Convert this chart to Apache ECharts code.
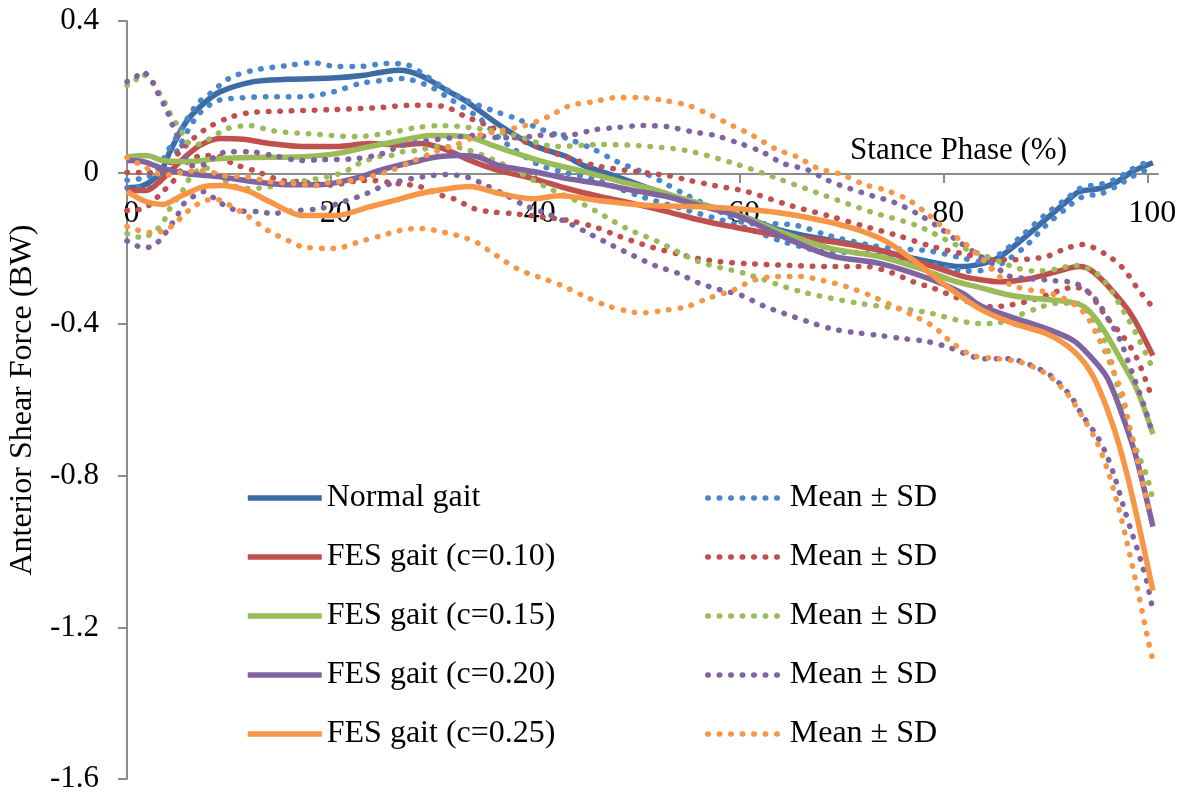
<!DOCTYPE html>
<html>
<head>
<meta charset="utf-8">
<title>Anterior Shear Force</title>
<script src="https://cdn.jsdelivr.net/npm/echarts@6/dist/echarts.min.js"></script>
<style>
  html, body { margin: 0; padding: 0; background: #fff; }
  #chart { width: 1190px; height: 796px; }
</style>
</head>
<body>
<div id="chart"></div>
<script>
// stance phase (%) / shear force (BW) pairs
const normalMean = [[0,-0.04],[1.5,-0.035],[3.2,-0.003],[4.2,0.055],[5.8,0.134],[7.5,0.182],[9.1,0.213],[12.4,0.24],[15.6,0.246],[20.5,0.25],[23,0.256],[25.4,0.267],[26.7,0.27],[28.7,0.257],[31.6,0.213],[33.3,0.187],[36.5,0.125],[39.8,0.072],[43.1,0.042],[44.7,0.019],[48,-0.011],[51.2,-0.042],[54.5,-0.075],[60,-0.113],[64,-0.152],[67.9,-0.174],[71.8,-0.192],[75.7,-0.218],[78.6,-0.235],[81.6,-0.248],[83.8,-0.24],[85.5,-0.222],[87.8,-0.174],[90.1,-0.121],[92,-0.077],[93.3,-0.05],[95.3,-0.042],[97,-0.024],[98.5,0.003],[100.5,0.026]]
const normalUpper = [[0,-0.02],[2,-0.012],[3,0.01],[4,0.058],[5,0.1],[5.9,0.142],[7,0.185],[8.1,0.208],[10.1,0.25],[12.4,0.27],[15.6,0.282],[18.2,0.29],[20.5,0.28],[22.8,0.28],[25.4,0.288],[27.5,0.284],[28.7,0.266],[30.7,0.23],[32.9,0.195],[35.9,0.163],[38.2,0.142],[40.4,0.116],[43.1,0.09],[45.6,0.063],[48,0.029],[50.2,0.005],[52.2,-0.021],[54.5,-0.055],[56,-0.075],[58.6,-0.11],[61,-0.135],[63.5,-0.135],[65.7,-0.14],[68.6,-0.165],[72.5,-0.19],[75,-0.2],[78.4,-0.206],[81.8,-0.225],[83.5,-0.235],[85.5,-0.215],[87.5,-0.17],[90,-0.11],[92,-0.07],[93.5,-0.04],[95.5,-0.03],[97,-0.015],[98.5,0.01],[100.5,0.035]]
const normalLower = [[0,-0.04],[2,-0.04],[3,-0.03],[4,0.01],[5,0.063],[6.9,0.15],[8.6,0.187],[10,0.195],[13.7,0.2],[17,0.2],[20.2,0.213],[22.8,0.235],[25,0.243],[27,0.248],[29.7,0.227],[31.6,0.195],[34.6,0.142],[36.2,0.098],[38,0.06],[40.4,0.02],[43,0],[46,-0.02],[50,-0.06],[55,-0.1],[60,-0.14],[64,-0.18],[66,-0.195],[68,-0.208],[72,-0.212],[76.4,-0.232],[78.4,-0.24],[82.3,-0.26],[84.5,-0.255],[86,-0.235],[88,-0.195],[90,-0.14],[92,-0.095],[93.5,-0.065],[95.5,-0.055],[97,-0.035],[98.5,-0.01],[100.5,0.015]]

const c10Mean = [[0,-0.047],[1.9,-0.047],[3.5,-0.016],[5.2,0.029],[7.1,0.071],[9.1,0.09],[11.4,0.088],[14,0.077],[17.2,0.069],[20.5,0.069],[23.8,0.077],[26.7,0.073],[28.7,0.077],[31,0.063],[33.9,0.029],[36.5,0.005],[39.8,-0.016],[43.1,-0.042],[46.3,-0.063],[49.6,-0.082],[52.9,-0.103],[56.1,-0.125],[59.1,-0.142],[64,-0.166],[68.9,-0.182],[73.8,-0.206],[78.6,-0.245],[81.9,-0.274],[83.5,-0.282],[85.5,-0.288],[88.4,-0.28],[91.1,-0.261],[93.3,-0.248],[94.6,-0.261],[96.6,-0.314],[98.5,-0.38],[100.5,-0.483]]
const c10Upper = [[0,0],[2,0],[3.5,0.01],[5,0.05],[6.5,0.09],[8,0.12],[10,0.145],[12,0.158],[15,0.162],[20,0.166],[25,0.172],[28,0.178],[31,0.175],[33,0.15],[35,0.128],[38,0.092],[42,0.05],[46,0.018],[50,0.002],[53,-0.008],[55,-0.02],[57.5,-0.034],[60.7,-0.05],[65,-0.087],[69,-0.116],[72,-0.14],[75.5,-0.166],[78.6,-0.193],[82,-0.215],[85,-0.23],[87,-0.23],[90,-0.222],[92,-0.2],[93.6,-0.19],[95.8,-0.214],[97.6,-0.253],[99,-0.306],[100.5,-0.356]]
const c10Lower = [[0,-0.1],[1.8,-0.093],[3.5,-0.05],[4.5,-0.024],[6,0.03],[7.5,0.045],[9,0.042],[10.5,0.022],[12.5,0.005],[15,-0.02],[17,-0.024],[20,-0.033],[22.5,-0.022],[24,-0.021],[26.5,-0.029],[28.7,-0.037],[30.8,-0.06],[32,-0.069],[34,-0.095],[35.5,-0.103],[37.7,-0.108],[40,-0.115],[43.4,-0.127],[46,-0.145],[48,-0.166],[51.2,-0.195],[54,-0.215],[56,-0.227],[58,-0.235],[60.7,-0.24],[65,-0.245],[69,-0.248],[72.5,-0.248],[75,-0.265],[77,-0.288],[79,-0.305],[81.3,-0.33],[83,-0.345],[84.8,-0.354],[88.2,-0.34],[91.6,-0.309],[92.7,-0.303],[94,-0.311],[96,-0.383],[97.6,-0.433],[98.9,-0.488],[100.2,-0.578]]

const c15Mean = [[0,0.042],[1.9,0.045],[3.5,0.032],[5.9,0.029],[9.1,0.037],[12.4,0.04],[17.2,0.042],[20.5,0.05],[23.8,0.069],[26.7,0.084],[28.7,0.095],[30,0.098],[33.3,0.095],[35.9,0.071],[38.2,0.05],[41.4,0.024],[44.7,0.003],[48,-0.021],[51.2,-0.042],[54.5,-0.069],[60,-0.113],[64,-0.156],[68.9,-0.2],[73.8,-0.222],[77.7,-0.253],[80.9,-0.285],[83.5,-0.303],[86.8,-0.325],[90.1,-0.335],[92.7,-0.343],[94,-0.359],[95.6,-0.412],[97.3,-0.491],[98.9,-0.57],[100.5,-0.69]]
const c15Upper = [[0,0.23],[0.6,0.235],[1.4,0.261],[2.4,0.24],[2.9,0.222],[3.5,0.195],[4,0.169],[4.5,0.142],[5.2,0.116],[5.7,0.088],[6.5,0.072],[7.5,0.08],[8.6,0.098],[9.8,0.116],[12,0.124],[14.3,0.11],[17.6,0.103],[22.5,0.095],[26.7,0.11],[28.4,0.119],[30.8,0.124],[34.4,0.116],[38,0.098],[42,0.069],[46.6,0.074],[50.2,0.071],[54.8,0.058],[59.5,0.024],[64,-0.018],[68.4,-0.061],[72.8,-0.103],[77.4,-0.14],[81.4,-0.193],[83.5,-0.214],[86,-0.24],[87,-0.251],[89,-0.26],[91,-0.255],[92.8,-0.245],[94,-0.251],[95,-0.266],[95.8,-0.288],[96.5,-0.314],[97.7,-0.369],[98.9,-0.427],[99.9,-0.483],[100.4,-0.512]]
const c15Lower = [[0,-0.161],[1.6,-0.172],[2.6,-0.156],[3.5,-0.135],[4,-0.103],[5.4,-0.05],[5.9,-0.024],[6.9,0.005],[7.8,0.012],[9,-0.01],[10.4,-0.034],[12,-0.042],[13.4,-0.04],[14.7,-0.034],[16.3,-0.024],[17.6,-0.021],[19.2,-0.013],[20.2,-0.008],[21.5,0.005],[22.5,0.021],[23.5,0.032],[24.6,0.042],[25.8,0.045],[27,0.055],[28.4,0.058],[30.5,0.069],[33,0.063],[36.7,0.024],[41,-0.037],[44.6,-0.082],[49,-0.148],[52,-0.182],[56,-0.235],[60.5,-0.266],[66,-0.314],[72,-0.346],[78,-0.367],[83.5,-0.398],[85,-0.398],[87,-0.38],[89,-0.36],[91,-0.345],[93,-0.345],[94.5,-0.38],[96,-0.46],[97,-0.56],[98,-0.66],[99,-0.74],[99.9,-0.8],[100.5,-0.865]]

const c20Mean = [[0,0.032],[1.6,0.029],[3.5,0.011],[5.9,-0.003],[9.1,-0.011],[12.4,-0.024],[15.6,-0.032],[18.9,-0.032],[22.2,-0.016],[25.4,0.011],[28.7,0.032],[30,0.04],[32.3,0.045],[34.3,0.042],[36.5,0.018],[39.8,0.003],[43.1,-0.016],[46.3,-0.029],[49.6,-0.047],[52.9,-0.063],[56.1,-0.087],[60,-0.116],[64,-0.166],[68.9,-0.219],[73.8,-0.24],[78.6,-0.28],[81.9,-0.319],[83.5,-0.35],[86.5,-0.38],[90.1,-0.412],[92.7,-0.443],[94.3,-0.483],[96,-0.54],[97.5,-0.64],[98.9,-0.755],[100.5,-0.934]]
const c20Upper = [[0,0.24],[0.6,0.245],[1.5,0.266],[2.4,0.245],[2.9,0.216],[3.9,0.164],[4.4,0.129],[4.9,0.098],[5.4,0.071],[6.4,0.018],[7.6,0.021],[8.6,0.042],[9.8,0.055],[12,0.055],[14.3,0.045],[17,0.032],[19,0.034],[22.5,0.037],[25,0.05],[26.7,0.069],[29,0.082],[31.8,0.092],[34,0.098],[36.5,0.092],[38.8,0.092],[40,0.098],[43.6,0.1],[45.8,0.113],[48,0.119],[50.5,0.124],[53,0.121],[55.3,0.108],[57.6,0.098],[59.8,0.079],[62.2,0.055],[64.3,0.024],[66.6,0.008],[68.7,-0.021],[70.8,-0.042],[73,-0.061],[75.2,-0.079],[77.4,-0.108],[79.3,-0.14],[81.3,-0.179],[83,-0.21],[85.2,-0.248],[86.2,-0.272],[90.7,-0.285],[93,-0.293],[94.8,-0.332],[96.1,-0.385],[97.3,-0.443],[98.5,-0.53],[99.7,-0.62],[100.4,-0.684]]
const c20Lower = [[0,-0.18],[1.6,-0.198],[2.6,-0.193],[3.5,-0.169],[4.2,-0.142],[4.9,-0.116],[5.4,-0.087],[6.5,-0.063],[7.6,-0.05],[8.6,-0.069],[9.6,-0.087],[10.8,-0.1],[13,-0.103],[14.2,-0.108],[16.6,-0.1],[18.9,-0.095],[21.2,-0.077],[23.5,-0.055],[24.5,-0.042],[26.5,-0.024],[29,-0.011],[31.3,-0.005],[32.6,-0.008],[33.8,-0.016],[34.8,-0.029],[36.8,-0.055],[39,-0.087],[41.1,-0.108],[43.4,-0.135],[45.5,-0.164],[47.6,-0.193],[49.6,-0.219],[51.7,-0.245],[54,-0.266],[55.9,-0.29],[58.1,-0.309],[60.2,-0.324],[62.3,-0.351],[64.4,-0.372],[66.7,-0.393],[69,-0.412],[71.3,-0.422],[73.8,-0.43],[76,-0.438],[78.4,-0.446],[80.6,-0.462],[82.9,-0.486],[84,-0.491],[86.3,-0.491],[88.6,-0.509],[90.6,-0.538],[92.4,-0.588],[93.6,-0.641],[95,-0.694],[96,-0.747],[96.8,-0.807],[97.6,-0.879],[98.4,-0.947],[98.9,-0.987],[99.4,-1.032],[99.9,-1.079],[100.4,-1.142]]

const c25Mean = [[0,-0.05],[1.9,-0.077],[3.5,-0.084],[5.2,-0.063],[7.5,-0.037],[9.1,-0.034],[11.7,-0.047],[14,-0.077],[17.2,-0.113],[20.5,-0.113],[23.8,-0.09],[26.7,-0.07],[28.7,-0.055],[31.6,-0.042],[33.6,-0.037],[36.5,-0.055],[39.8,-0.069],[42.4,-0.061],[46.3,-0.074],[51.2,-0.087],[56.1,-0.09],[62,-0.1],[65.6,-0.113],[70.5,-0.142],[74.4,-0.182],[77.7,-0.245],[80.3,-0.3],[83.5,-0.359],[86.8,-0.398],[90.1,-0.425],[92.7,-0.47],[94.6,-0.535],[96.5,-0.66],[97.9,-0.789],[99.2,-0.94],[100.5,-1.103]]
const c25Upper = [[0,0.04],[1.5,0.018],[2.6,0.003],[3.5,-0.008],[4.7,-0.003],[5.9,0.003],[7.1,0.005],[8.1,0.003],[9.4,-0.008],[11.8,-0.011],[14,-0.024],[16.3,-0.029],[18.6,-0.034],[19.7,-0.026],[22,-0.021],[25.6,0.003],[27.9,0.029],[30.2,0.055],[32.3,0.074],[34.4,0.098],[36.7,0.111],[39,0.124],[41.3,0.148],[43.4,0.177],[45.7,0.187],[48,0.198],[50.2,0.198],[52.7,0.19],[55,0.177],[57.1,0.153],[59.3,0.124],[61.3,0.098],[63.5,0.063],[65.6,0.042],[67.7,0.011],[70,-0.005],[72.3,-0.032],[74.4,-0.047],[76.5,-0.071],[78.5,-0.111],[80.3,-0.153],[82.1,-0.187],[84,-0.234],[85.7,-0.28],[86.7,-0.298],[88.7,-0.311],[89.9,-0.314],[91.1,-0.324],[92.2,-0.338],[93.2,-0.356],[94,-0.377],[95.1,-0.433],[95.6,-0.46],[96.6,-0.522],[97.5,-0.583],[98,-0.644],[99,-0.76],[100.1,-0.887]]
const c25Lower = [[0,-0.142],[1.6,-0.156],[2.7,-0.158],[3.9,-0.15],[4.9,-0.129],[5.7,-0.108],[6.7,-0.087],[7.6,-0.074],[8.8,-0.071],[9.8,-0.082],[11.9,-0.116],[13.8,-0.153],[16,-0.182],[17.1,-0.195],[19.4,-0.2],[20.6,-0.2],[21.6,-0.193],[22.8,-0.182],[25,-0.166],[26.2,-0.156],[27.4,-0.15],[28.5,-0.147],[29.7,-0.15],[30.8,-0.156],[32.1,-0.164],[33.1,-0.172],[34.3,-0.185],[35.3,-0.203],[36.2,-0.219],[37.2,-0.237],[38.2,-0.253],[39.3,-0.266],[40.5,-0.277],[42.6,-0.298],[44.7,-0.325],[47,-0.351],[49.3,-0.367],[50.4,-0.37],[52.5,-0.364],[54.8,-0.354],[56.9,-0.332],[59.3,-0.311],[61.3,-0.285],[63.7,-0.274],[65.9,-0.274],[68.2,-0.285],[70.5,-0.301],[72.8,-0.324],[75,-0.351],[77,-0.377],[79,-0.406],[80.9,-0.451],[82.9,-0.483],[85,-0.49],[87.5,-0.5],[90,-0.53],[92,-0.58],[93.5,-0.64],[95,-0.71],[96,-0.78],[97,-0.87],[98,-0.98],[99,-1.1],[100,-1.23],[100.5,-1.288]]

const meanNames = ['Normal gait', 'FES gait (c=0.10)', 'FES gait (c=0.15)', 'FES gait (c=0.20)', 'FES gait (c=0.25)']
const sdNames = ['sd-normal', 'sd-c10', 'sd-c15', 'sd-c20', 'sd-c25']
const xTicks = [0, 20, 40, 60, 80, 100]

const chart = echarts.init(document.getElementById('chart'))
const FONT = "'Liberation Serif', 'Times New Roman', serif"
const AXIS_GREY = '#8c8c8c'
// y = 0 sits 605px above the bottom of the plot (2.0 BW over 758px)
const X_AXIS_OFFSET = -605

const groups = [
  { mean: normalMean, upper: normalUpper, lower: normalLower, solid: '#3d6ba6', dots: '#4a86cc' },
  { mean: c10Mean, upper: c10Upper, lower: c10Lower, solid: '#c0504d', dots: '#c0504d' },
  { mean: c15Mean, upper: c15Upper, lower: c15Lower, solid: '#9bbb59', dots: '#9bbb59' },
  { mean: c20Mean, upper: c20Upper, lower: c20Lower, solid: '#8064a2', dots: '#8064a2' },
  { mean: c25Mean, upper: c25Upper, lower: c25Lower, solid: '#f79646', dots: '#f79646' }
]

function solidLine (name, color, data) {
  return {
    name, type: 'line', data, smooth: 0.3, symbol: 'none',
    itemStyle: { color },
    lineStyle: { color, width: 5.5 }
  }
}

function dottedLine (name, color, data) {
  return {
    name, type: 'line', data, smooth: 0.3, symbol: 'none',
    itemStyle: { color },
    lineStyle: { color, width: 5.5, type: [0.5, 11], cap: 'round' }
  }
}

const series = []
groups.forEach((g, i) => {
  series.push(solidLine(meanNames[i], g.solid, g.mean))
  series.push(dottedLine(sdNames[i], g.dots, g.upper))
  series.push(dottedLine(sdNames[i], g.dots, g.lower))
})

const legendBase = {
  orient: 'vertical',
  top: 482,
  padding: 0,
  itemWidth: 74,
  itemHeight: 20,
  itemGap: 27,
  selectedMode: false,
  itemStyle: { opacity: 0 },
  lineStyle: { width: 5.5 },
  textStyle: { fontFamily: FONT, fontSize: 32, color: '#000', lineHeight: 32 }
}

chart.setOption({
  animation: false,
  backgroundColor: '#fff',
  grid: { left: 127, right: 32, top: 21, bottom: 17, containLabel: false, outerBoundsMode: 'none' },
  legend: [
    Object.assign({}, legendBase, { left: 245, data: meanNames }),
    Object.assign({}, legendBase, { left: 705, itemWidth: 77, data: sdNames, formatter: () => 'Mean ± SD' })
  ],
  xAxis: {
    type: 'value',
    min: 0,
    max: 101,
    interval: 20,
    offset: X_AXIS_OFFSET,
    name: 'Stance Phase (%)',
    nameLocation: 'end',
    nameGap: -91,
    nameTextStyle: { fontFamily: FONT, fontSize: 31, color: '#000', align: 'right', verticalAlign: 'bottom', padding: [0, 0, 8, 0] },
    axisLine: { onZero: false, lineStyle: { color: AXIS_GREY, width: 2 } },
    axisTick: { length: 9, lineStyle: { color: AXIS_GREY, width: 2 }, customValues: xTicks },
    axisLabel: { fontFamily: FONT, fontSize: 32, color: '#000', margin: 24, padding: [0, 0, 0, 9], customValues: xTicks },
    splitLine: { show: false }
  },
  yAxis: {
    type: 'value',
    min: -1.6,
    max: 0.4,
    interval: 0.4,
    name: 'Anterior Shear Force (BW)',
    nameLocation: 'middle',
    nameGap: 75,
    nameTextStyle: { fontFamily: FONT, fontSize: 32, color: '#000' },
    axisLine: { show: true, onZero: false, lineStyle: { color: AXIS_GREY, width: 2 } },
    axisTick: { show: true, length: 9, lineStyle: { color: AXIS_GREY, width: 2 } },
    axisLabel: { fontFamily: FONT, fontSize: 31, color: '#000', margin: 28 },
    splitLine: { show: false }
  },
  series
})
</script>
</body>
</html>
